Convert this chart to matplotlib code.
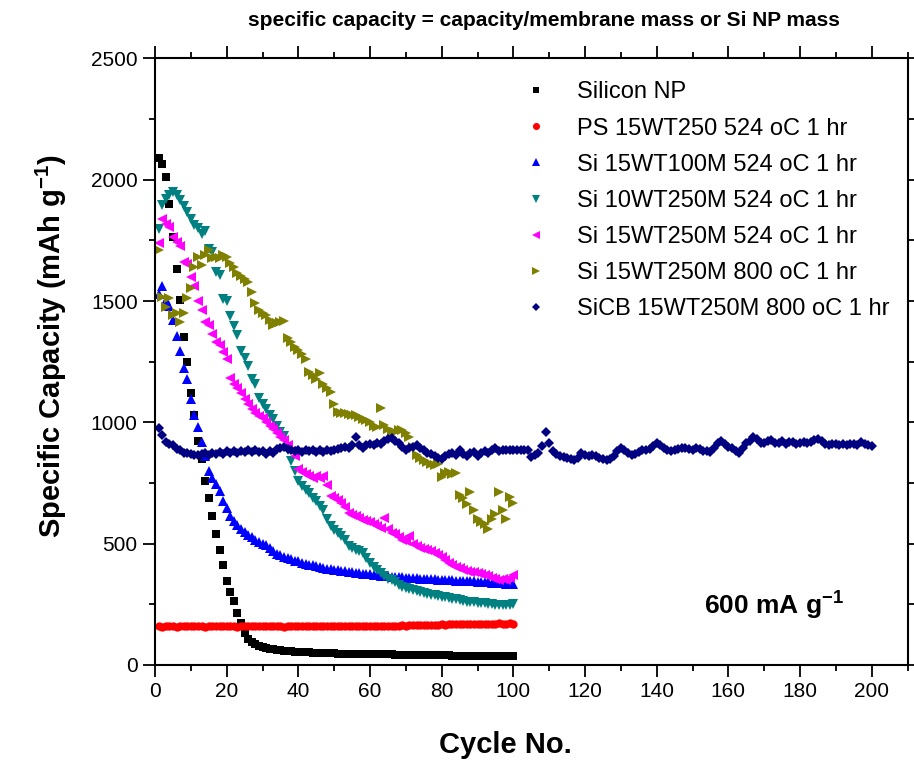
import matplotlib
matplotlib.use("Agg")
import matplotlib.pyplot as plt
from matplotlib.ticker import MultipleLocator
import numpy as np

plt.rcParams['font.family'] = ['Liberation Sans', 'DejaVu Sans']
plt.rcParams['mathtext.fontset'] = 'custom'
plt.rcParams['mathtext.rm'] = 'Liberation Sans:bold'
plt.rcParams['mathtext.default'] = 'rm'

# ---- data (cycle number -> mAh/g) ----
cycles_100 = np.arange(1, 101)
cycles_200 = np.arange(1, 201)

silicon_np = [2090, 2065, 2010, 1900, 1765, 1630, 1505, 1350, 1248, 1122,
              1030, 925, 850, 760, 690, 615, 540, 475, 410, 347,
              300, 262, 213, 175, 131, 107, 95, 86, 79, 74,
              70, 67, 64, 62, 60, 58, 57, 56, 55, 54,
              53, 53, 52, 51, 50, 50, 49, 49, 48, 48,
              47, 47, 46, 46, 45, 45, 45, 44, 44, 44,
              45, 46, 45, 44, 44, 44, 43, 43, 43, 43,
              42, 42, 42, 42, 41, 41, 41, 41, 40, 40,
              40, 40, 39, 39, 39, 39, 38, 38, 38, 38,
              37, 37, 37, 36, 36, 36, 35, 35, 35, 36]

ps_15wt250 = [160, 158, 161, 159, 162, 158, 160, 161, 159, 160,
              162, 159, 160, 158, 161, 160, 159, 162, 160, 159,
              161, 160, 158, 160, 162, 159, 160, 161, 159, 160,
              162, 160, 159, 161, 160, 158, 161, 160, 159, 162,
              160, 159, 161, 160, 162, 159, 160, 161, 160, 159,
              161, 160, 162, 160, 159, 161, 160, 162, 161, 160,
              162, 160, 161, 162, 160, 161, 162, 161, 163, 162,
              163, 164, 163, 165, 164, 165, 166, 165, 166, 167,
              166, 167, 168, 167, 168, 169, 168, 169, 168, 169,
              170, 169, 170, 169, 170, 171, 170, 170, 171, 170]

si_15wt100m = [1530, 1560, 1505, 1480, 1420, 1355, 1295, 1225, 1180, 1095,
               1030, 980, 918, 860, 798, 770, 745, 715, 675, 647,
               615, 595, 578, 560, 548, 537, 526, 516, 507, 500,
               494, 482, 468, 458, 452, 447, 440, 435, 430, 427,
               422, 418, 413, 410, 406, 403, 399, 397, 395, 393,
               392, 389, 386, 384, 382, 380, 378, 376, 374, 373,
               372, 370, 368, 367, 366, 364, 362, 362, 361, 360,
               359, 358, 357, 356, 356, 355, 354, 353, 352, 352,
               351, 350, 349, 348, 347, 346, 346, 345, 344, 343,
               342, 341, 340, 339, 338, 337, 336, 335, 334, 333]

si_10wt250m = [1795, 1895, 1920, 1935, 1950, 1935, 1917, 1890, 1866, 1840,
               1815, 1800, 1777, 1790, 1715, 1700, 1618, 1608, 1508, 1500,
               1440, 1398, 1360, 1294, 1267, 1232, 1177, 1157, 1102, 1075,
               1053, 1030, 1012, 985, 960, 943, 888, 840, 798, 760,
               737, 720, 709, 690, 675, 655, 640, 600, 571, 555,
               544, 530, 516, 489, 480, 475, 468, 461, 440, 420,
               405, 392, 378, 365, 356, 351, 340, 330, 323, 318,
               312, 307, 303, 299, 296, 293, 290, 289, 285, 282,
               279, 275, 272, 270, 267, 264, 261, 259, 258, 256,
               255, 254, 252, 251, 249, 248, 247, 246, 247, 252]

si_15wt250m_524 = [1740, 1840, 1818, 1805, 1765, 1745, 1728, 1660, 1652, 1598,
                   1562, 1500, 1462, 1412, 1400, 1362, 1330, 1320, 1288, 1260,
                   1184, 1157, 1142, 1122, 1095, 1075, 1053, 1040, 1028, 1019,
                   1000, 985, 971, 955, 940, 929, 905, 880, 861, 806,
                   795, 785, 778, 772, 780, 770, 778, 740, 696, 690,
                   680, 668, 650, 626, 620, 612, 605, 599, 595, 590,
                   582, 571, 566, 606, 560, 544, 540, 528, 516, 512,
                   530, 500, 489, 484, 478, 472, 468, 462, 455, 447,
                   432, 420, 410, 402, 398, 392, 388, 384, 382, 379,
                   375, 370, 365, 360, 355, 351, 355, 350, 360, 372]

si_15wt250m_800 = [1711, 1518, 1477, 1512, 1443, 1450, 1415, 1450, 1512, 1553,
                   1640, 1683, 1650, 1690, 1711, 1677, 1680, 1677, 1690, 1683,
                   1656, 1640, 1615, 1604, 1590, 1580, 1538, 1490, 1463, 1450,
                   1443, 1420, 1401, 1409, 1412, 1418, 1347, 1330, 1311, 1297,
                   1280, 1263, 1209, 1195, 1180, 1204, 1159, 1140, 1126, 1075,
                   1043, 1040, 1037, 1035, 1032, 1030, 1022, 1015, 1009, 1000,
                   985, 980, 1057, 990, 974, 954, 960, 970, 968, 955,
                   940, 900, 865, 855, 844, 838, 830, 823, 830, 775,
                   790, 795, 785, 790, 700, 690, 665, 713, 640, 603,
                   590, 582, 561, 600, 623, 713, 640, 603, 693, 667]

sicb_15wt250m_800 = [976, 948, 920, 912, 906, 890, 885, 875, 872, 868,
                     865, 865, 870, 872, 866, 875, 870, 878, 870, 880,
                     874, 882, 872, 880, 876, 885, 878, 884, 876, 880,
                     870, 882, 875, 890, 895, 898, 890, 885, 880, 885,
                     878, 884, 880, 886, 878, 884, 877, 884, 880, 886,
                     892, 895, 900, 893, 905, 940, 905, 893, 905, 912,
                     905, 915, 910, 925, 930, 935, 925, 915, 900, 888,
                     895, 900, 905, 893, 885, 873, 868, 860, 855, 850,
                     860, 870, 875, 865, 885, 870, 862, 872, 878, 862,
                     872, 880, 873, 888, 893, 880, 888, 885, 888, 886,
                     886, 888, 884, 886, 859, 865, 872, 903, 960, 914,
                     880, 868, 862, 859, 852, 848, 845, 855, 872, 865,
                     862, 866, 860, 852, 848, 845, 850, 862, 880, 896,
                     888, 872, 865, 870, 878, 886, 886, 890, 902, 914,
                     905, 895, 886, 882, 886, 890, 893, 893, 890, 886,
                     893, 890, 882, 880, 878, 895, 915, 922, 910, 900,
                     893, 880, 872, 895, 915, 925, 938, 930, 915, 914,
                     922, 927, 915, 914, 921, 910, 917, 917, 912, 915,
                     917, 914, 920, 928, 931, 925, 910, 907, 910, 912,
                     908, 910, 908, 910, 912, 905, 917, 910, 908, 903]

labels = ['Silicon NP', 'PS 15WT250 524 oC 1 hr', 'Si 15WT100M 524 oC 1 hr',
          'Si 10WT250M 524 oC 1 hr', 'Si 15WT250M 524 oC 1 hr',
          'Si 15WT250M 800 oC 1 hr', 'SiCB 15WT250M 800 oC 1 hr']

fig = plt.figure(figsize=(9.14, 7.66), dpi=100)
ax = fig.add_axes([0.1696, 0.1319, 0.8233, 0.7919])

ax.plot(cycles_100, silicon_np, 's', color='black', ms=5.5, mew=0, label=labels[0])
ax.plot(cycles_100, ps_15wt250, 'o', color='red', ms=6, mew=0, label=labels[1])
ax.plot(cycles_100, si_15wt100m, '^', color='#0000FF', ms=7, mew=0, label=labels[2])
ax.plot(cycles_100, si_10wt250m, 'v', color='#008080', ms=7, mew=0, label=labels[3])
ax.plot(cycles_100, si_15wt250m_524, '<', color='#FF00FF', ms=7, mew=0, label=labels[4])
ax.plot(cycles_100, si_15wt250m_800, '>', color='#808000', ms=7, mew=0, label=labels[5])
ax.plot(cycles_200, sicb_15wt250m_800, 'D', color='#000080', ms=5, mew=0, label=labels[6])

ax.set_xlim(0, 210)
ax.set_ylim(0, 2500)
ax.xaxis.set_major_locator(MultipleLocator(20))
ax.xaxis.set_minor_locator(MultipleLocator(10))
ax.yaxis.set_major_locator(MultipleLocator(500))
ax.yaxis.set_minor_locator(MultipleLocator(250))
ax.tick_params(which='both', direction='out', top=True, right=True, width=1.3,
               labelsize=15, pad=4)
ax.tick_params(which='major', length=8.5)
ax.tick_params(which='minor', length=4.5)
for sp in ax.spines.values():
    sp.set_linewidth(1.5)

leg = ax.legend(loc='upper left', bbox_to_anchor=(0.49, 0.962), frameon=False,
                fontsize=17, handlelength=1, handletextpad=1.25, labelspacing=0.6,
                borderpad=0, borderaxespad=0, markerscale=0.85)

ax.text(0.822, 0.098, r'600 mA g$^{-1}$', transform=ax.transAxes, ha='center',
        va='center', fontsize=19, fontweight='bold')

fig.text(505 / 914, 1 - 745 / 766, 'Cycle No.', ha='center', va='center',
         fontsize=21, fontweight='bold')
fig.text(51 / 914, 1 - 346 / 766, r'Specific Capacity (mAh g$^{-1}$)', ha='center',
         va='center', rotation=90, fontsize=21, fontweight='bold')
fig.text(544 / 914, 1 - 20 / 766, 'specific capacity = capacity/membrane mass or Si NP mass',
         ha='center', va='center', fontsize=15, fontweight='bold')

fig.savefig('out.png', dpi=100)
